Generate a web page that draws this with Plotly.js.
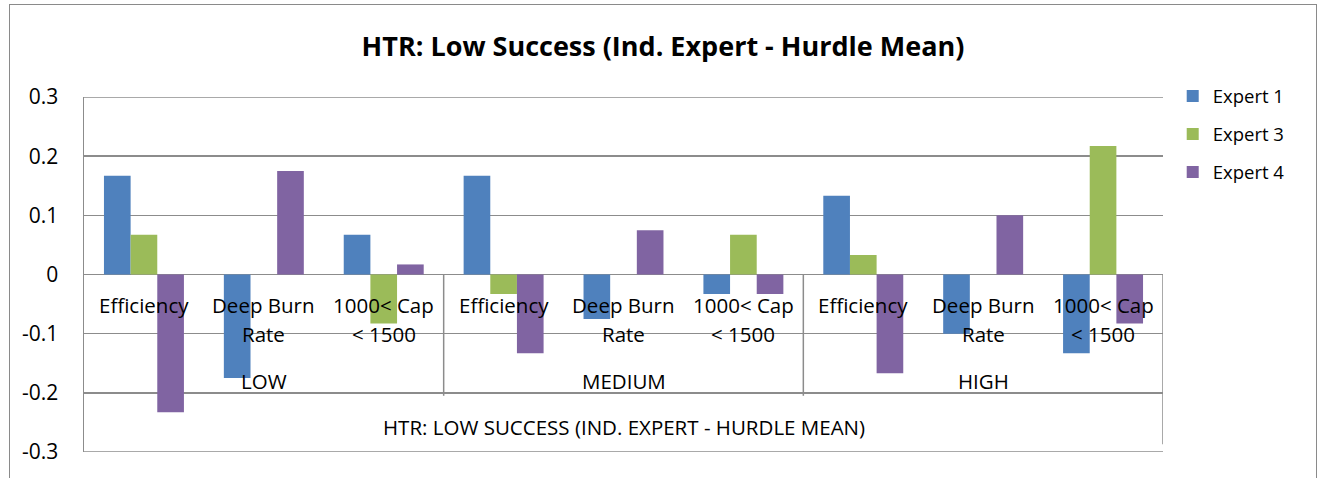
<!DOCTYPE html>
<html>
<head>
<meta charset="utf-8">
<script src="https://cdn.plot.ly/plotly-3.0.1.min.js"></script>
<style>
  html, body { margin: 0; padding: 0; background: #fff; }
  #wrap { position: relative; width: 1326px; height: 478px; overflow: hidden; }
  #chart { width: 1326px; height: 478px; }
  #frame { position: absolute; left: 9px; top: 4px; width: 1308px; height: 520px;
           border: 1.5px solid #8a8a8a; pointer-events: none; box-sizing: border-box; }
</style>
</head>
<body>
<div id="wrap">
  <div id="chart"></div>
  <div id="frame"></div>
</div>
<script>
// ---- data ----
const groups = ['LOW', 'MEDIUM', 'HIGH'];
const subCategories = ['Efficiency', 'Deep Burn Rate', '1000< Cap < 1500'];
const subLabelLines = [['Efficiency'], ['Deep Burn', 'Rate'], ['1000< Cap', '< 1500']];
const seriesNames = ['Expert 1', 'Expert 3', 'Expert 4'];
const expert1 = [0.167, -0.175, 0.067, 0.167, -0.075, -0.033, 0.133, -0.100, -0.133];
const expert3 = [0.067, 0.000, -0.083, -0.033, 0.000, 0.067, 0.033, 0.000, 0.217];
const expert4 = [-0.233, 0.175, 0.017, -0.133, 0.075, -0.033, -0.167, 0.100, -0.083];
const yTicks = [-0.3, -0.2, -0.1, 0, 0.1, 0.2, 0.3];
const yTickText = ['-0.3', '-0.2', '-0.1', '0', '0.1', '0.2', '0.3'];
const chartTitle = 'HTR: Low Success (Ind. Expert - Hurdle Mean)';
const axisTitle = 'HTR: LOW SUCCESS (IND. EXPERT - HURDLE MEAN)';

const colors = ['#4F81BD', '#9BBB59', '#8064A2'];
const FONT = '"Open Sans", Lato, sans-serif';
const GRID = '#8c8c8c';
const LBL = 20.5;

// x positions derived from category index
const nSub = subCategories.length;
const xs = [];
groups.forEach((g, gi) => subCategories.forEach((s, si) => xs.push(gi * nSub + si)));

const values = [expert1, expert3, expert4];
const traces = values.map((v, i) => ({
  type: 'bar',
  name: seriesNames[i],
  x: xs,
  y: v,
  marker: { color: colors[i], line: { width: 0 } },
  legendgroup: 'g' + i,
  hoverinfo: 'x+y+name'
}));

const annotations = [];
// sub-category labels below the zero line (one annotation per text line)
groups.forEach((g, gi) => subLabelLines.forEach((lines, si) => {
  lines.forEach((line, k) => {
    annotations.push({
      x: gi * nSub + si, y: 0, xref: 'x', yref: 'y',
      text: line, showarrow: false, xanchor: 'center', yanchor: 'middle',
      yshift: -(30 + 29 * k), font: { family: FONT, size: LBL, color: '#000' }
    });
  });
}));
// group labels
groups.forEach((g, gi) => {
  annotations.push({
    x: gi * nSub + (nSub - 1) / 2, y: 0, xref: 'x', yref: 'y',
    text: g, showarrow: false, xanchor: 'center', yanchor: 'middle',
    yshift: -106, font: { family: FONT, size: LBL, color: '#000' }
  });
});
// category axis title
annotations.push({
  x: (groups.length * nSub - 1) / 2, y: 0, xref: 'x', yref: 'y',
  text: axisTitle, showarrow: false, xanchor: 'center', yanchor: 'middle',
  yshift: -152, font: { family: FONT, size: LBL, color: '#000' }
});

const shapes = [];
// top and bottom gridlines
[-0.3, 0.3].forEach(v => shapes.push({
  type: 'line', xref: 'paper', yref: 'y', x0: 0, x1: 1, y0: v, y1: v,
  line: { color: GRID, width: 1.5 }
}));
// group dividers in the category table
for (let gi = 1; gi <= groups.length; gi++) {
  shapes.push({
    type: 'line', xref: 'x', yref: 'y',
    x0: gi * nSub - 0.5, x1: gi * nSub - 0.5,
    y0: 0, y1: gi === groups.length ? -0.287 : -0.205,
    line: { color: GRID, width: 1.5 }
  });
}

const layout = {
  width: 1326, height: 478,
  margin: { l: 84, r: 163, t: 97, b: 26 },
  paper_bgcolor: '#fff', plot_bgcolor: '#fff',
  font: { family: FONT, size: 18, color: '#000' },
  title: {
    text: '<b>' + chartTitle + '</b>',
    x: 0.5, xref: 'container', xanchor: 'center',
    y: 1 - 47 / 478, yref: 'container', yanchor: 'middle',
    font: { family: FONT, size: 27, color: '#000' }
  },
  barmode: 'group', bargap: 0.333, bargroupgap: 0,
  xaxis: {
    range: [-0.5, groups.length * nSub - 0.5],
    showticklabels: false, showgrid: false, zeroline: false,
    showline: false, ticks: '', fixedrange: true
  },
  yaxis: {
    range: [-0.3, 0.3], tickvals: yTicks, ticktext: yTickText,
    showgrid: true, gridcolor: GRID, gridwidth: 1.5,
    zeroline: true, zerolinecolor: GRID, zerolinewidth: 1.5,
    showline: true, linecolor: GRID, linewidth: 1.5,
    ticks: '', ticklabelstandoff: 20,
    tickfont: { family: FONT, size: 21, color: '#000' }, fixedrange: true
  },
  legend: {
    x: 1.009, xanchor: 'left', y: 1.055, yanchor: 'top',
    font: { family: FONT, size: 18.5, color: '#000' },
    traceorder: 'grouped', tracegroupgap: 11,
    bgcolor: 'rgba(0,0,0,0)'
  },
  annotations: annotations,
  shapes: shapes
};

Plotly.newPlot('chart', traces, layout, { displayModeBar: false, staticPlot: true });
</script>
</body>
</html>
